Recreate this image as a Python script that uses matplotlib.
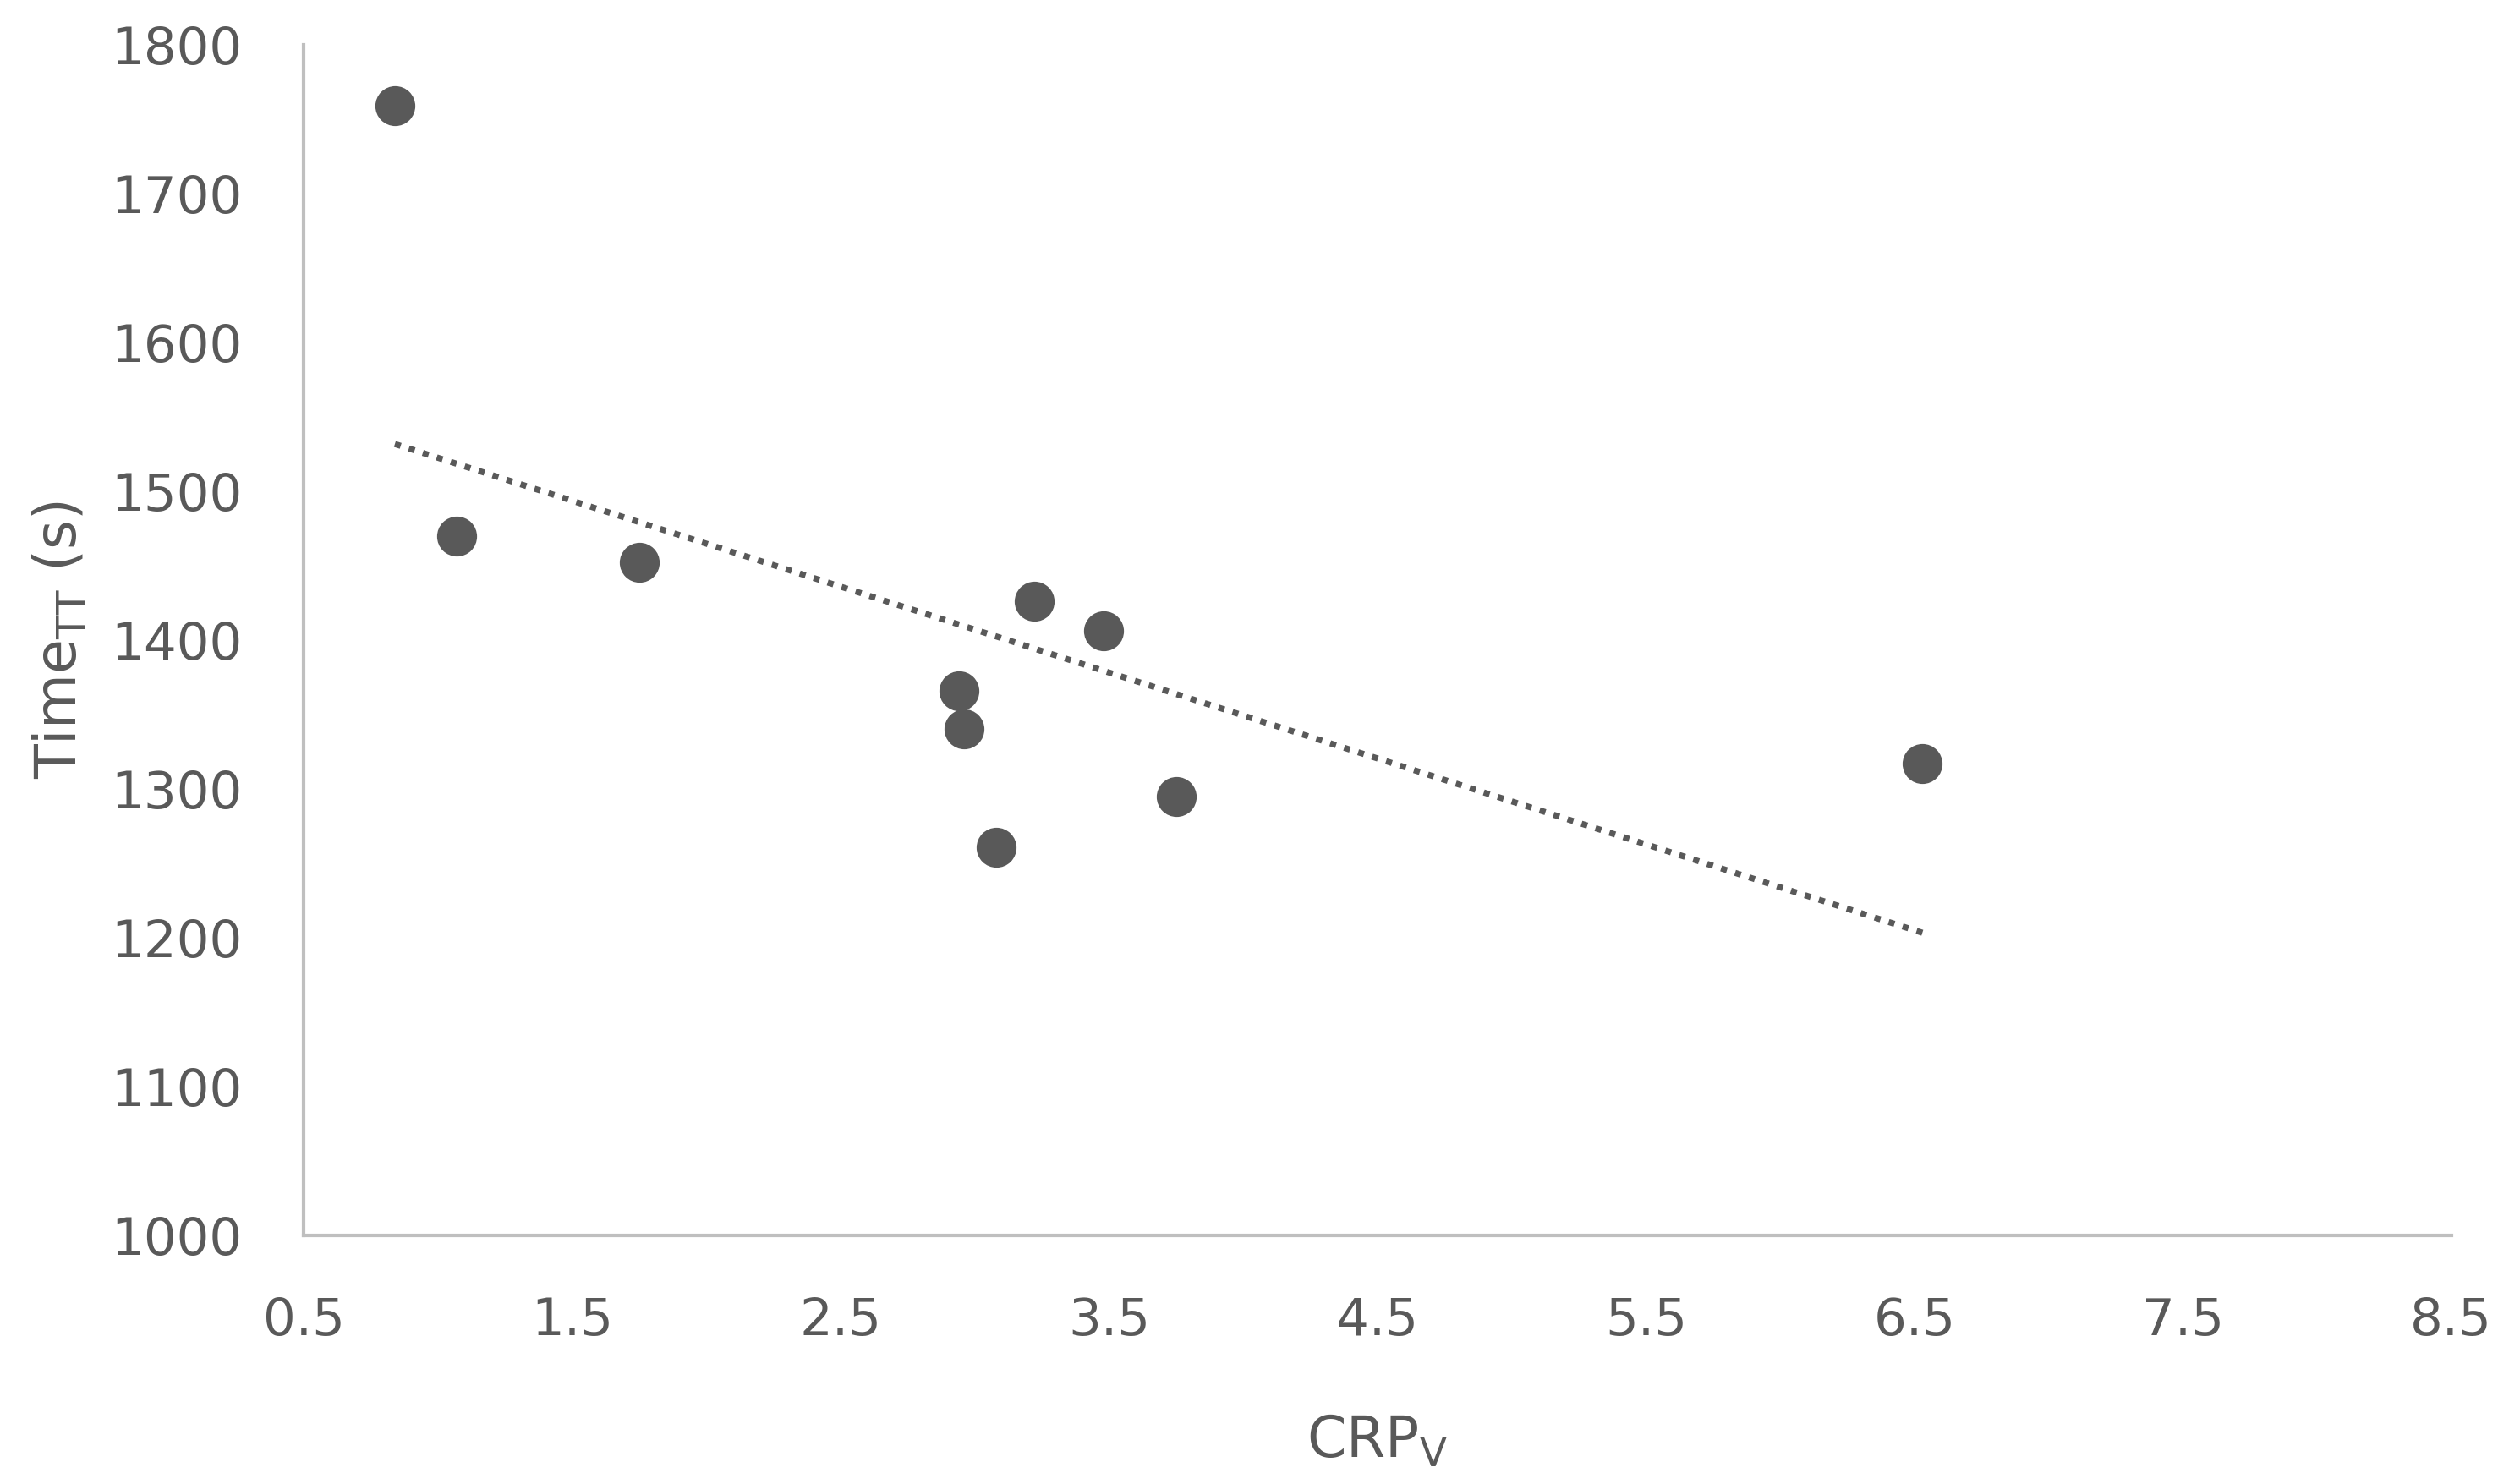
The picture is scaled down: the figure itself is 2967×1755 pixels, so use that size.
import numpy as np
import matplotlib
matplotlib.use("Agg")
import matplotlib.pyplot as plt

# values
crp_v = [0.84, 1.07, 1.75, 3.22, 3.48, 2.94, 2.96, 3.08, 3.75, 6.53]
time_tt = [1759, 1470, 1452, 1426, 1406, 1366, 1340, 1261, 1295, 1317]
x_ticks = [0.5, 1.5, 2.5, 3.5, 4.5, 5.5, 6.5, 7.5, 8.5]
y_ticks = [1000, 1100, 1200, 1300, 1400, 1500, 1600, 1700, 1800]

text_grey = "#595959"
axis_grey = "#bfbfbf"

plt.rcParams["font.family"] = ["DejaVu Sans"]

fig = plt.figure(figsize=(14.835, 8.775), dpi=200)
ax = fig.add_axes([0.121, 0.1675, 0.856, 0.8025])

ax.plot(crp_v, time_tt, "o", color=text_grey, markersize=16, zorder=3)

# linear trendline over the data range
slope, intercept = np.polyfit(crp_v, time_tt, 1)
xs = np.array([min(crp_v), max(crp_v)])
ax.plot(xs, slope * xs + intercept, color=text_grey, linewidth=2.6,
        linestyle=(0, (1, 1.4)), zorder=2)

ax.set_xlim(0.5, 8.5)
ax.set_ylim(1000, 1800)
ax.set_xticks(x_ticks)
ax.set_xticklabels([f"{t:.1f}" for t in x_ticks])
ax.set_yticks(y_ticks)
ax.tick_params(length=0, labelsize=22, labelcolor=text_grey, pad=26)

for side in ["top", "right"]:
    ax.spines[side].set_visible(False)
for side in ["left", "bottom"]:
    ax.spines[side].set_color(axis_grey)
    ax.spines[side].set_linewidth(1.5)

ax.set_xlabel(r"CRP$_{\mathregular{V}}$", fontsize=24, color=text_grey)
ax.set_ylabel(r"Time$_{\mathregular{TT}}$ (s)", fontsize=24, color=text_grey)
ax.xaxis.set_label_coords(0.5, -0.15)
ax.yaxis.set_label_coords(-0.1, 0.5)

fig.savefig("out.png", dpi=200, facecolor="white")
